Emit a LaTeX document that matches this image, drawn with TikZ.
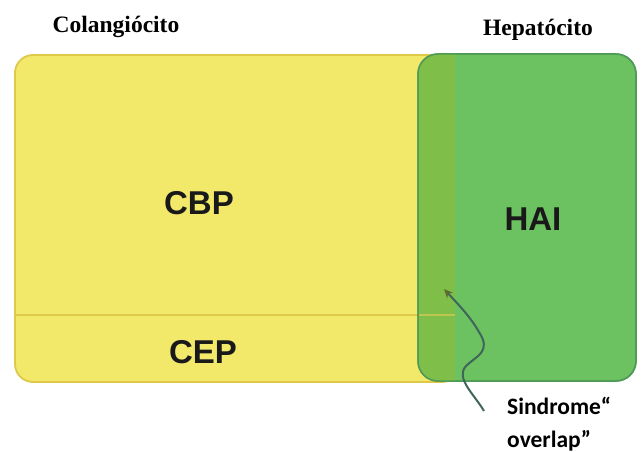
\documentclass[tikz,border=0pt]{standalone}
\usepackage{fontspec}
\setmainfont{Liberation Serif}
\newfontfamily\boxfont{Liberation Sans}
\newfontfamily\labfont{Carlito}
\usetikzlibrary{arrows.meta}
\definecolor{yfill}{HTML}{F2E86A}
\definecolor{ydraw}{HTML}{E0C848}
\definecolor{gfill}{HTML}{6CC160}
\definecolor{gdraw}{HTML}{4E9A56}
\definecolor{ovl}{HTML}{80BE4A}
\definecolor{arrc}{HTML}{3F665A}
\definecolor{tipc}{HTML}{5E6A2E}
\tikzset{
  head/.style={font=\fontsize{23.5}{26}\selectfont\bfseries},
  big/.style={font=\boxfont\fontsize{33}{36}\selectfont\bfseries, text=black!90},
  lab/.style={font=\labfont\fontsize{23.5}{26}\selectfont\bfseries, anchor=base west, inner sep=0pt},
  conn/.style={draw=arrc, line width=2pt, -{Stealth[length=9pt,width=8pt,color=tipc]}}
}
\begin{document}
\begin{tikzpicture}[x=1pt,y=-1pt]
\useasboundingbox (0,0) rectangle (641,452);
% yellow box
\path[fill=yfill, draw=ydraw, line width=1.8pt, rounded corners=18pt] (15,55) rectangle (460,382);
\draw[ydraw, line width=2pt] (15,315) -- (455,315);
% green box
\begin{scope}
\path[fill=gfill, draw=gdraw, line width=1.5pt, rounded corners=20pt] (418,54) rectangle (636,381);
\clip[rounded corners=20pt] (418,54) rectangle (636,381);
\fill[ovl] (418,54) rectangle (455,381);
\draw[ydraw!70!gfill, line width=1.5pt] (418,315) -- (455,315);
\end{scope}
\path[draw=gdraw, line width=1.5pt, rounded corners=20pt] (418,54) rectangle (636,381);
% headings
\node[head] (col) at (116,27) {Colangiócito};
\node[head] (hep) at (538,30) {Hepatócito};
% box labels
\node[big] (cbp) at (199,203) {CBP};
\node[big] (hai) at (533,219) {HAI};
\node[big] (cep) at (203,352) {CEP};
% annotation
\node[lab] (sind) at (507,414) {Sindrome“};
\node[lab] (ovlp) at (507,447) {overlap”};
\coordinate (tail) at (484,411);
\coordinate (tip) at (444,289);
\draw[conn] (tail) .. controls (474,394) and (455,378) .. (466,366)
  .. controls (476,356) and (492,352) .. (479,332)
  .. controls (470,316) and (456,302) .. (tip);
\end{tikzpicture}
\end{document}
